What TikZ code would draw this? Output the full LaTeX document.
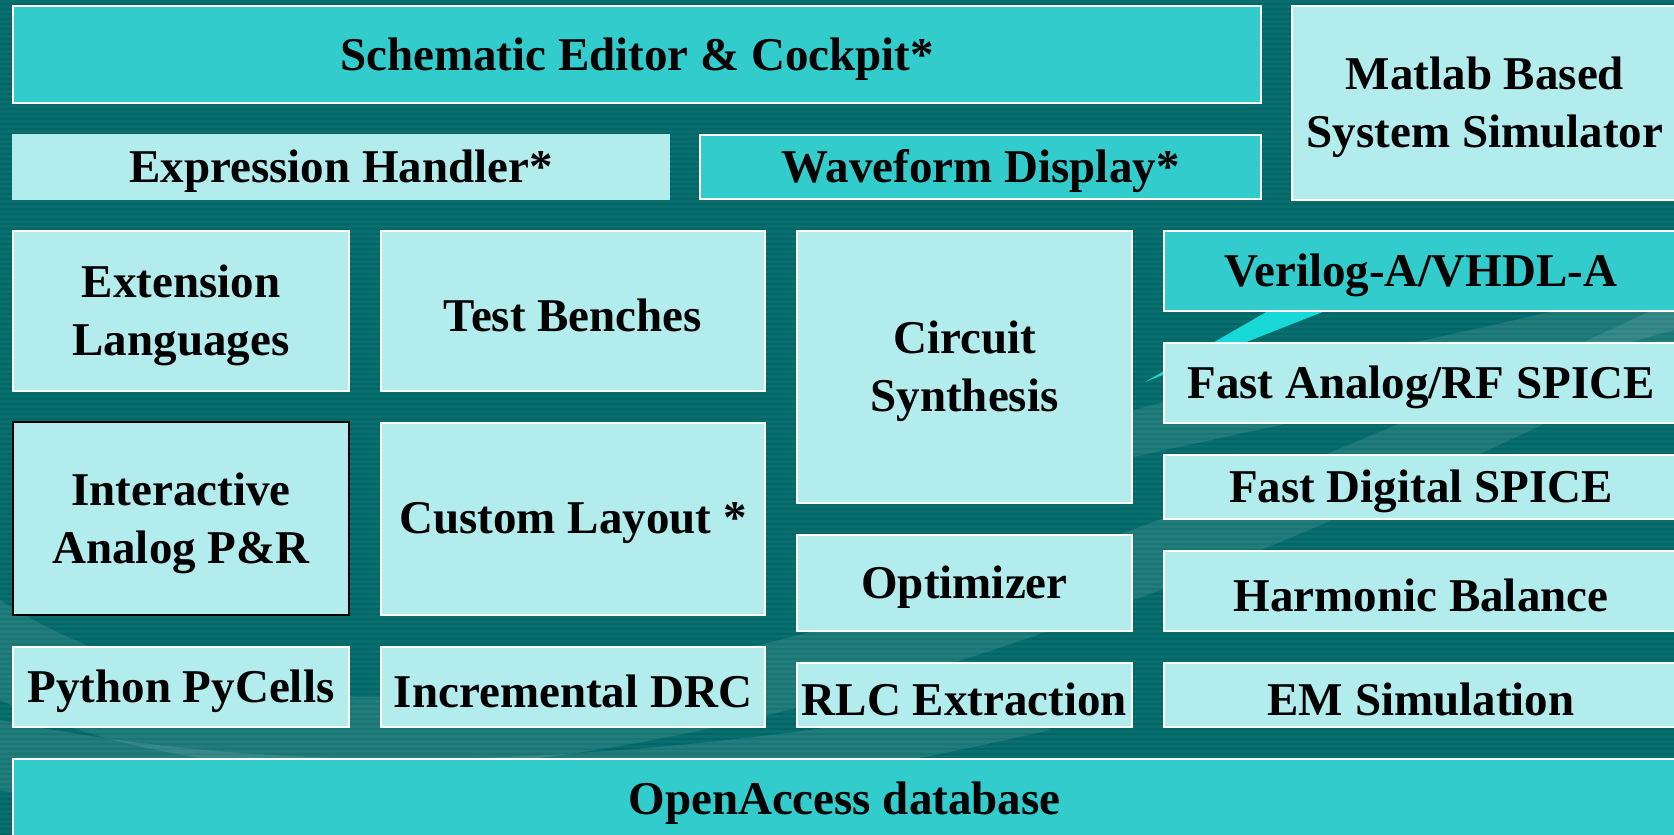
\documentclass[tikz,border=0pt]{standalone}
\usepackage{fontspec}
\setmainfont{Liberation Serif}
\definecolor{bg}{HTML}{006666}
\definecolor{stripe}{HTML}{0A6E6E}
\definecolor{darkbox}{HTML}{33CCCC}
\definecolor{lightbox}{HTML}{B3ECEC}
\definecolor{streak}{HTML}{18D8D8}
\tikzset{
  box/.style={rectangle, inner sep=0pt},
  dk/.style={box, fill=darkbox, draw=white, line width=1.6pt},
  lt/.style={box, fill=lightbox, draw=white, line width=1.6pt},
  ltplain/.style={box, fill=lightbox},
  ltblack/.style={box, fill=lightbox, draw=black, line width=2.6pt},
  boxtext/.style={inner sep=0pt, align=center, text=black, yshift=-4.5pt,
    font=\fontsize{47}{58}\selectfont\bfseries},
  swoosh/.style={fill=white, fill opacity=0.10, draw=none},
}
\newcommand\bx[7]{%
  \node[#1, minimum width={(#5)-(#3)}, minimum height={(#6)-(#4)},
    label={[boxtext]center:#7}]
    (#2) at ({((#3)+(#5))/2},{((#4)+(#6))/2}) {};}
\begin{document}
\begin{tikzpicture}[x=1pt,y=-1pt]
\useasboundingbox (0,0) rectangle (1674,835);
\clip (0,0) rectangle (1674,835);
% background
\fill[bg] (0,0) rectangle (1674,835);
\foreach \i in {0,...,167} \fill[stripe] (0,{\i*5}) rectangle (1674,{\i*5+2.5});
% swooshes
\fill[swoosh] (0,600) .. controls (250,760) and (700,760) .. (1674,300)
  -- (1674,360) .. controls (800,800) and (300,835) .. (0,700) -- cycle;
\fill[swoosh] (0,720) .. controls (200,760) and (500,790) .. (1000,700)
  -- (1050,730) .. controls (600,835) and (200,835) .. (0,790) -- cycle;
\fill[swoosh] (1100,420) .. controls (1300,360) and (1500,330) .. (1674,280)
  -- (1674,330) .. controls (1500,380) and (1300,420) .. (1120,460) -- cycle;
\fill[streak] (1145,382) -- (1325,311) -- (1268,311) -- cycle;
% boxes
\bx{dk}{sched}{13}{6}{1261}{103}{Schematic Editor \& Cockpit*}
\bx{lt}{matlab}{1292}{6}{1678}{200}{Matlab Based\\System Simulator}
\bx{ltplain}{expr}{12}{134}{670}{200}{Expression Handler*}
\bx{dk}{wave}{700}{135}{1261}{199}{Waveform Display*}
\bx{lt}{ext}{13}{231}{349}{391}{Extension\\Languages}
\bx{lt}{tb}{381}{231}{765}{391}{Test Benches}
\bx{lt}{cs}{797}{231}{1132}{503}{Circuit\\Synthesis}
\bx{dk}{veri}{1164}{231}{1678}{311}{Verilog-A/VHDL-A}
\bx{lt}{fa}{1164}{343}{1678}{423}{Fast Analog/RF SPICE}
\bx{lt}{fd}{1164}{455}{1678}{519}{Fast Digital SPICE}
\bx{lt}{hb}{1164}{551}{1678}{631}{Harmonic Balance}
\bx{lt}{em}{1164}{663}{1678}{727}{EM Simulation}
\bx{ltblack}{iapr}{13}{422}{349}{615}{Interactive\\Analog P\&R}
\bx{lt}{cl}{381}{423}{765}{615}{Custom Layout *}
\bx{lt}{opt}{797}{535}{1132}{631}{Optimizer}
\bx{lt}{py}{13}{647}{349}{727}{Python PyCells}
\bx{lt}{drc}{381}{647}{765}{727}{Incremental DRC}
\bx{lt}{rlc}{797}{663}{1132}{727}{RLC Extraction}
\bx{dk}{oa}{13}{759}{1676}{839}{OpenAccess database}
\end{tikzpicture}
\end{document}
